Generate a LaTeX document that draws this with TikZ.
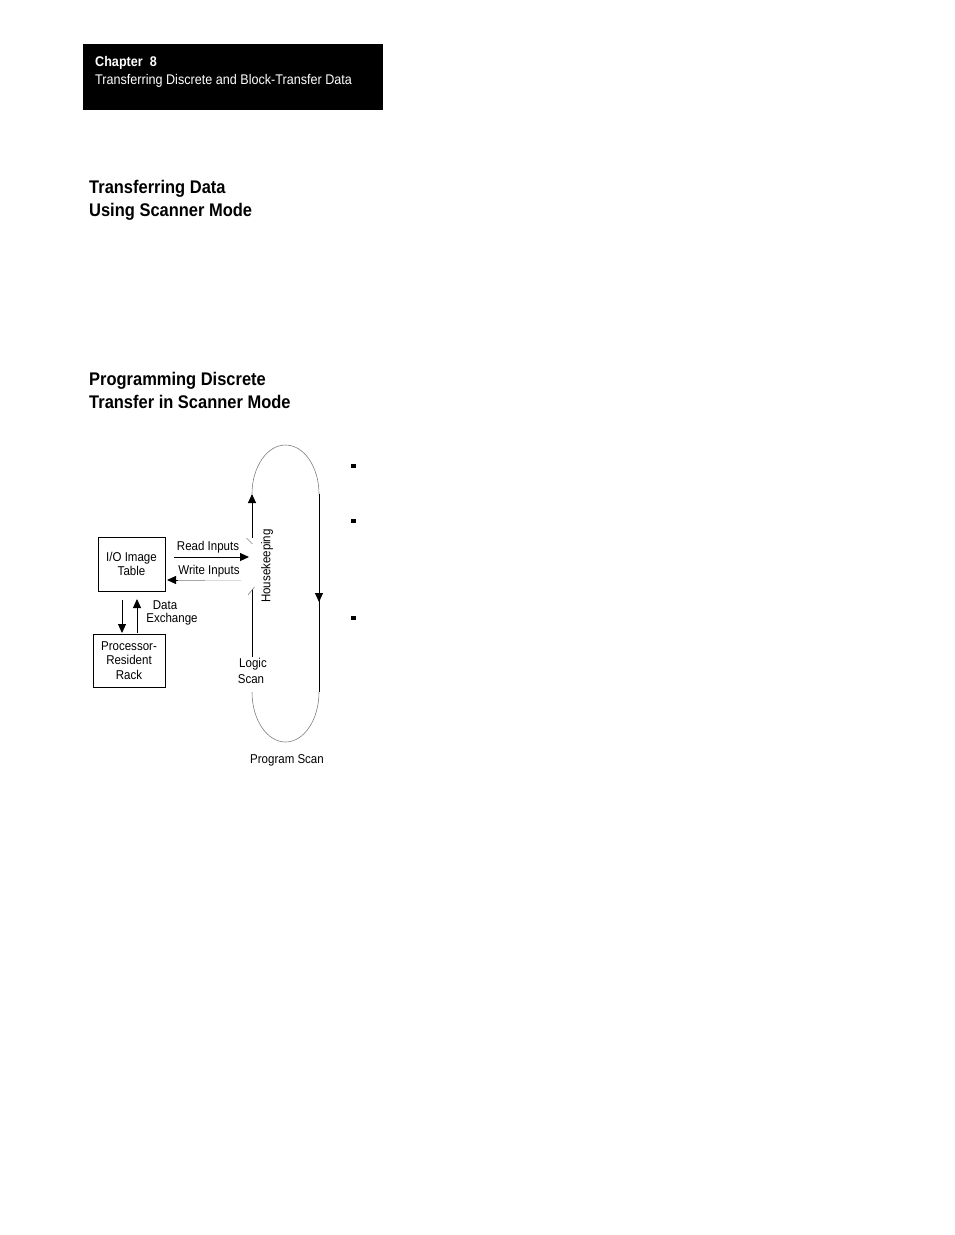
\documentclass[tikz,border=0pt]{standalone}
\usepackage{fontspec}
\setmainfont[FakeStretch=0.9]{Liberation Sans}
\usetikzlibrary{arrows.meta}
\begin{document}
\begin{tikzpicture}[x=1pt,y=-1pt,
  lbl/.style={inner sep=0pt,font=\fontsize{12.8}{14.5}\selectfont,align=center},
  hd/.style={inner sep=0pt,anchor=base west,font=\fontsize{18.3}{23}\selectfont\bfseries},
  boxn/.style={draw,line width=0.8pt,inner sep=0pt,align=center,font=\fontsize{12.8}{14.5}\selectfont},
  flow/.style={line width=0.9pt,-{Triangle[length=9pt,width=8pt]}},
  loopline/.style={line width=0.9pt},
  arcline/.style={gray,line width=0.6pt},
  bullet/.style={fill=black,minimum size=4.5pt,inner sep=0pt}]
\useasboundingbox (0,0) rectangle (954,1235);
% header
\node[fill=black,minimum width=300pt,minimum height=66pt,inner sep=0pt,anchor=north west] (hdr) at (83,44) {};
\node[anchor=base west,inner sep=0pt,text=white,font=\fontsize{14}{16}\selectfont\bfseries] (chap) at (95,66) {Chapter\ \ 8};
\node[anchor=base west,inner sep=0pt,text=white,font=\fontsize{14}{16}\selectfont] (chapt) at (95,84) {Transferring Discrete and Block-Transfer Data};
% headings
\node[hd] (h1a) at (89,193) {Transferring Data};
\node[hd] (h1b) at (89,216) {Using Scanner Mode};
\node[hd] (h2a) at (89,385) {Programming Discrete};
\node[hd] (h2b) at (89,408) {Transfer in Scanner Mode};
% boxes
\node[boxn,minimum width=67pt,minimum height=54pt] (io) at (131.5,564) {I/O Image\\Table};
\node[boxn,minimum width=72pt,minimum height=53pt] (rack) at (129,660.5) {Processor-\\Resident\\Rack};
% data exchange arrows
\draw[flow] (122,600) -- (122,633);
\draw[flow] (137,633) -- (137,599);
\node[lbl] (d1) at (165,605) {Data};
\node[lbl] (d2) at (172,619) {Exchange};
% read / write inputs
\coordinate (rtip) at (249,557);
\coordinate (wstart) at (241,580);
\draw[flow] (174,557) -- (rtip);
\node[lbl] (ri) at (208,547) {Read Inputs};
\draw[gray!30,line width=1pt] (wstart) -- (205,580);
\draw[gray!70,line width=1pt] (205,580) -- (176,580);
\draw[line width=0.9pt,{Triangle[length=9pt,width=8pt]}-] (167,580) -- (178,580);
\node[lbl] (wi) at (209,571) {Write Inputs};
% loop
\coordinate (lt) at (252,494);
\coordinate (rt) at (319,494);
\coordinate (rb) at (319,692);
\coordinate (lb) at (252,692);
\draw[loopline] (252,538) -- (252,503);
\draw[line width=0.9pt,-{Triangle[length=9pt,width=8pt]}] (252,512) -- (lt);
\draw[arcline] (lt) arc[start angle=180,end angle=360,x radius=33.5,y radius=49];
\draw[loopline] (rt) -- (rb);
\draw[line width=0.9pt,-{Triangle[length=9pt,width=8pt]}] (319,580) -- (319,602);
\draw[arcline] (rb) arc[start angle=0,end angle=180,x radius=33.5,y radius=50];
\draw[loopline] (252,589) -- (252,657);
\draw[gray,line width=0.6pt] (246.5,538) -- (252.5,544);
\draw[gray,line width=0.6pt] (248,595) -- (254.5,587);
\node[lbl,rotate=90] (hk) at (267,566) {Housekeeping};
\node[lbl] (ls1) at (253,664) {Logic};
\node[lbl] (ls2) at (251,679) {Scan};
\node[lbl] (ps) at (287,760) {Program Scan};
% bullets
\node[bullet] (b1) at (353.5,466) {};
\node[bullet] (b2) at (353.5,521) {};
\node[bullet] (b3) at (353.5,618) {};
\end{tikzpicture}
\end{document}
